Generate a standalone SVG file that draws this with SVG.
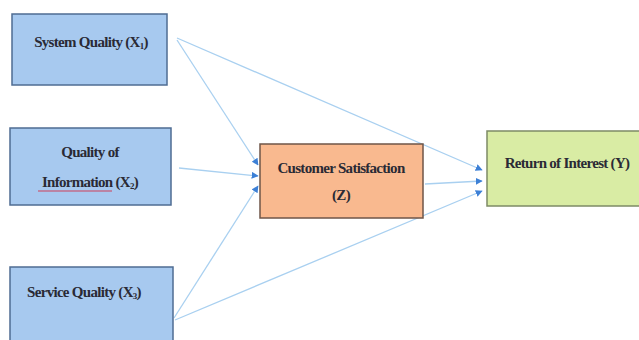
<svg xmlns="http://www.w3.org/2000/svg" width="639" height="340" viewBox="0 0 639 340">
<defs>
<style>
.box{stroke-width:1.5}
.blue{fill:#a7c9ef;stroke:#4f6c93}
.orange{fill:#f9b98f;stroke:#6f5648}
.green{fill:#d9eca4;stroke:#7d8b66}
.t{font-size:15px;font-weight:bold;fill:#2a2a35;letter-spacing:-0.7px}
.sub{font-size:9px}
.edge{fill:none;stroke:#a9d0f0;stroke-width:1.3;marker-end:url(#ah)}
</style>
<marker id="ah" viewBox="0 0 10 10" refX="9" refY="5" markerWidth="7" markerHeight="7" markerUnits="userSpaceOnUse" orient="auto">
<path d="M0,0 L10,5 L0,10 z" fill="#3d80d6"/>
</marker>
</defs>
<rect width="639" height="340" fill="#ffffff"/>
<g id="connectors">
<path class="edge" d="M177,40 L258,165"/>
<path class="edge" d="M177,38 L482,170"/>
<path class="edge" d="M179,168 L258,176"/>
<path class="edge" d="M174,318 L258,186"/>
<path class="edge" d="M175,320 L482,191"/>
<path class="edge" d="M425,184 L482,181"/>
</g>
<g font-family="Liberation Serif, Times New Roman, Tinos, DejaVu Serif, Noto Serif, serif">
<g id="n_system_quality">
<rect class="box blue" x="12" y="14" width="155" height="71"/>
<text class="t" x="91" y="47" text-anchor="middle">System Quality (X<tspan class="sub" dy="2">1</tspan><tspan dy="-2">)</tspan></text>
</g>
<g id="n_quality_information">
<rect class="box blue" x="10" y="128" width="161" height="77"/>
<text class="t" x="90" y="157" text-anchor="middle">Quality of</text>
<text class="t" x="90" y="187" text-anchor="middle">Information (X<tspan class="sub" dy="2">2</tspan><tspan dy="-2">)</tspan></text>
<path d="M38,191 L112,191" stroke="#d0405a" stroke-width="1.2"/>
</g>
<g id="n_service_quality">
<rect class="box blue" x="10" y="267" width="163" height="80"/>
<text class="t" x="84" y="297" text-anchor="middle">Service Quality (X<tspan class="sub" dy="2">3</tspan><tspan dy="-2">)</tspan></text>
</g>
<g id="n_customer_satisfaction">
<rect class="box orange" x="260" y="144" width="163" height="74"/>
<text class="t" x="341" y="173" text-anchor="middle">Customer Satisfaction</text>
<text class="t" x="341" y="200" text-anchor="middle">(Z)</text>
</g>
<g id="n_return_of_interest">
<rect class="box green" x="487" y="131" width="160" height="75"/>
<text class="t" x="567" y="168" text-anchor="middle">Return of Interest (Y)</text>
</g>
</g>
</svg>
